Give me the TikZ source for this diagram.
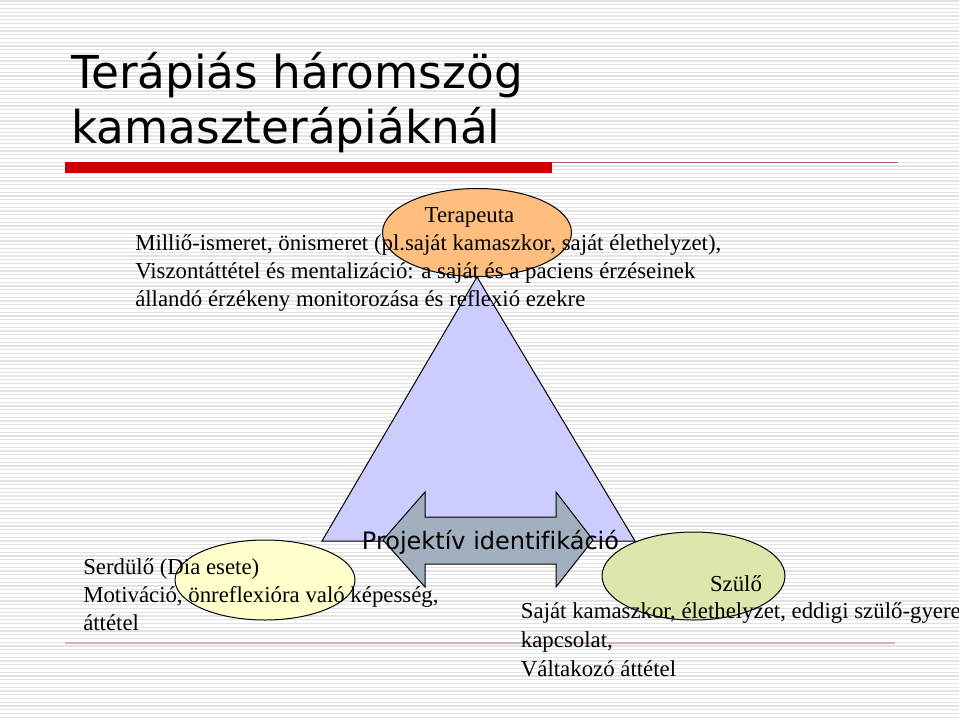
\documentclass[tikz,border=0pt]{standalone}
\usepackage{fontspec}
\setmainfont[Ligatures={NoCommon}]{Liberation Serif}
\newfontfamily\titlefont[Ligatures={NoCommon}]{DejaVu Sans}
\usetikzlibrary{shapes.geometric}
\definecolor{stripecol}{RGB}{226,226,226}
\definecolor{barred}{RGB}{204,0,0}
\definecolor{thinred}{RGB}{170,100,100}
\definecolor{footline}{RGB}{210,178,178}
\definecolor{trifill}{RGB}{204,204,255}
\definecolor{arrowfill}{RGB}{161,175,191}
\definecolor{terfill}{RGB}{255,190,125}
\definecolor{serfill}{RGB}{255,255,204}
\definecolor{szufill}{RGB}{218,232,172}
\tikzset{
  bodytext/.style={font=\fontsize{17.1}{20}\selectfont, inner sep=0pt, anchor=base west},
  titletext/.style={font=\titlefont\fontsize{34}{40}\selectfont, inner sep=0pt, anchor=base west},
  labeltext/.style={font=\titlefont\fontsize{18}{22}\selectfont, inner sep=0pt, anchor=base},
  oval/.style={ellipse, draw=black, line width=0.75pt, inner sep=0pt},
  outline/.style={draw=black, line width=0.75pt}
}
\begin{document}
\begin{tikzpicture}[x=0.75pt,y=-0.75pt]
\clip (0,0) rectangle (959,717);
\fill[white] (0,0) rectangle (959,717);
\foreach \i in {0,...,191} {
  \draw[stripecol, line width=1.1pt] (0,\i*3.75+1) -- (959,\i*3.75+1);
}
% title
\node[titletext] (t1) at (71,89) {Terápiás háromszög};
\node[titletext] (t2) at (71,143) {kamaszterápiáknál};
% title rule
\fill[barred] (65,161.7) rectangle (552,173.3);
\draw[thinred, line width=1.1pt] (552,162.5) -- (898,162.5);
% footer rule
\draw[footline, line width=1.5pt] (65,643) -- (895,643);
% triangle
\coordinate (apex) at (477,277);
\coordinate (bl) at (322,541);
\coordinate (br) at (635,541);
\filldraw[trifill, outline] (apex) -- (br) -- (bl) -- cycle;
% double arrow
\filldraw[arrowfill, outline] (383,540) -- (425,492) -- (425,517) -- (556,517) -- (556,492)
  -- (593,540) -- (556,587) -- (556,564) -- (425,564) -- (425,587) -- cycle;
% ellipses
\node[oval, fill=terfill, minimum width=141.75pt, minimum height=66pt] (ter) at (477,232.5) {};
\node[oval, fill=serfill, minimum width=135pt, minimum height=60pt] (ser) at (265,580) {};
\node[oval, fill=szufill, minimum width=137.25pt, minimum height=66pt] (szu) at (693.5,576) {};
% upper text
\node[bodytext, anchor=base] (terlab) at (469.5,222) {Terapeuta};
\node[bodytext] (u1) at (135,250) {Milliő-ismeret, önismeret (pl.saját kamaszkor, saját élethelyzet),};
\node[bodytext] (u2) at (135,278) {Viszontáttétel és mentalizáció: a saját és a paciens érzéseinek};
\node[bodytext] (u3) at (135,306) {állandó érzékeny monitorozása és reflexió ezekre};
% left text
\node[bodytext] (s1) at (83,574) {Serdülő (Dia esete)};
\node[bodytext] (s2) at (83,602) {Motiváció, önreflexióra való képesség,};
\node[bodytext] (s3) at (83,630) {áttétel};
% right text
\node[bodytext, anchor=base] (szulab) at (736,591) {Szülő};
\node[bodytext] (p1) at (520.7,618) {Saját kamaszkor, élethelyzet, eddigi szülő-gyerek};
\node[bodytext] (p2) at (520.7,647) {kapcsolat,};
\node[bodytext] (p3) at (520.7,676) {Váltakozó áttétel};
% arrow label
\node[labeltext] (proj) at (490.5,549) {Projektív identifikáció};
\end{tikzpicture}
\end{document}
